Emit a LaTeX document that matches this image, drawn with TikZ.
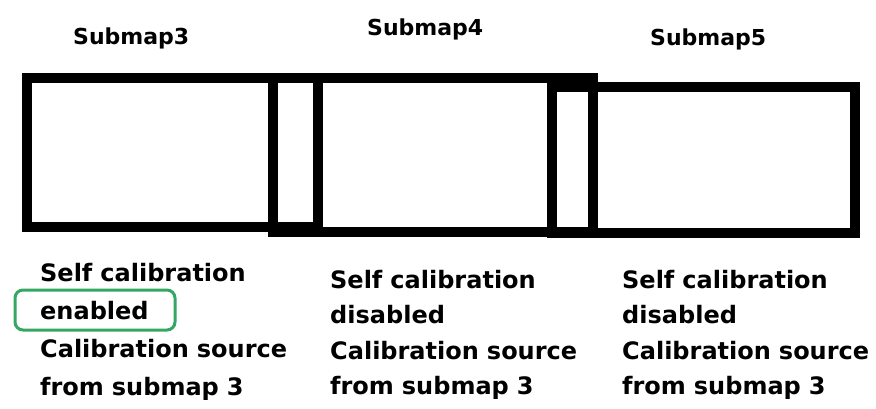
\documentclass[tikz,border=0pt]{standalone}
\usepackage{fontspec}
\setmainfont{DejaVu Sans}
\usetikzlibrary{positioning}
\definecolor{markgreen}{RGB}{52,168,98}

\begin{document}
\begin{tikzpicture}[x=1pt, y=-1pt,
    frame/.style={draw=black, line width=10pt},
    title/.style={font=\fontsize{22}{26}\selectfont\bfseries, anchor=base west, inner sep=0pt},
    note/.style={font=\fontsize{24}{#1}\selectfont\bfseries, anchor=base west,
                 inner sep=0pt, align=left, text width=270pt},
    highlight/.style={draw=markgreen, line width=3pt, rounded corners=8pt}]
  \useasboundingbox[fill=white] (0,0) rectangle (876,408);

  % the three overlapping submaps
  \draw[frame] (27,78) rectangle (318,227);
  \draw[frame] (273,78) rectangle (593,232);
  \draw[frame] (552,87) rectangle (855,233);

  % titles
  \node[title] (sub3) at (73,44) {Submap3};
  \node[title] (sub4) at (367,35) {Submap4};
  \node[title] (sub5) at (650,45) {Submap5};

  % calibration settings below each submap
  \node[note=38] (cal3) at (40,281)
    {Self calibration\\enabled\\Calibration source\\from submap 3};
  \node[note=35.5] (cal4) at (330,288)
    {Self calibration\\disabled\\Calibration source\\from submap 3};
  \node[note=35.5] (cal5) at (622,288)
    {Self calibration\\disabled\\Calibration source\\from submap 3};

  % mark on the enabled one
  \draw[highlight] (15,290) rectangle (175,330);
\end{tikzpicture}
\end{document}
